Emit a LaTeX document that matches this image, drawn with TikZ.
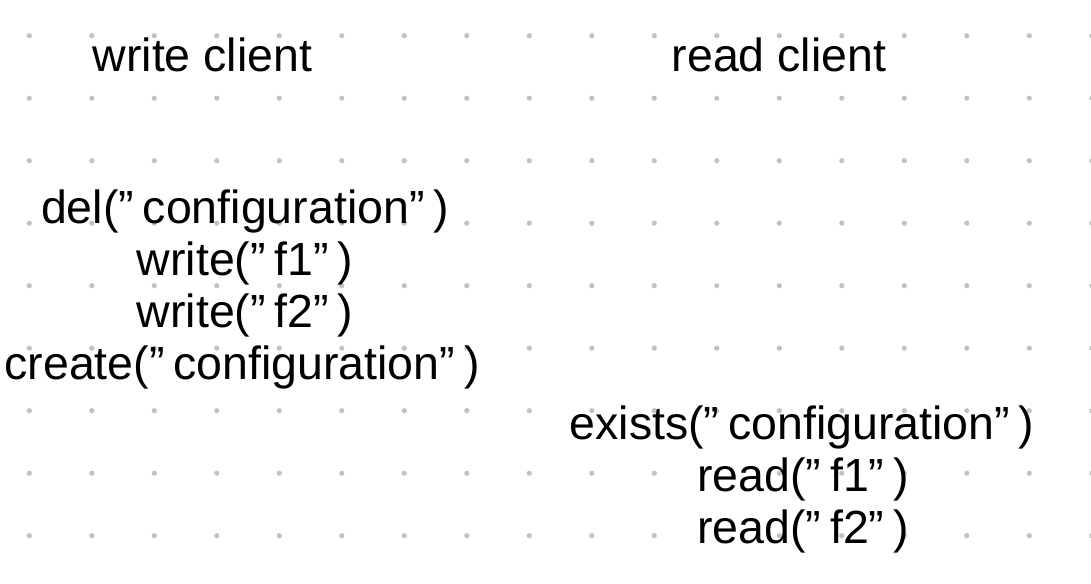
\documentclass[tikz,border=0pt]{standalone}
\usepackage{fontspec}
\setmainfont{Liberation Sans}
\newcommand{\qq}{”\hspace{0.19em}}
\tikzset{
  gdot/.style={fill=black!24, draw=none},
  lbl/.style={anchor=base, inner sep=0pt, font=\fontsize{46.5}{52}\selectfont}
}
\begin{document}
\begin{tikzpicture}[x=1pt,y=-1pt]
\useasboundingbox[fill=white] (0,0) rectangle (1091,583);
\foreach \i in {0,...,17}{
  \foreach \j in {0,...,8}{
    \fill[gdot] ({29.3+62.5*\i},{35.7+62.5*\j}) circle (2.6);
  }
}
\node[lbl] (wc) at (202.5,71.7) {write client};
\node[lbl] (rc) at (779,71.7) {read client};
\node[lbl] (w1) at (245,223) {del(\qq configuration\qq)};
\node[lbl] (w2) at (245,275) {write(\qq f1\qq)};
\node[lbl] (w3) at (245,327) {write(\qq f2\qq)};
\node[lbl] (w4) at (242,379) {create(\qq configuration\qq)};
\node[lbl] (r1) at (802,439) {exists(\qq configuration\qq)};
\node[lbl] (r2) at (803,491) {read(\qq f1\qq)};
\node[lbl] (r3) at (803,543) {read(\qq f2\qq)};
\end{tikzpicture}
\end{document}
